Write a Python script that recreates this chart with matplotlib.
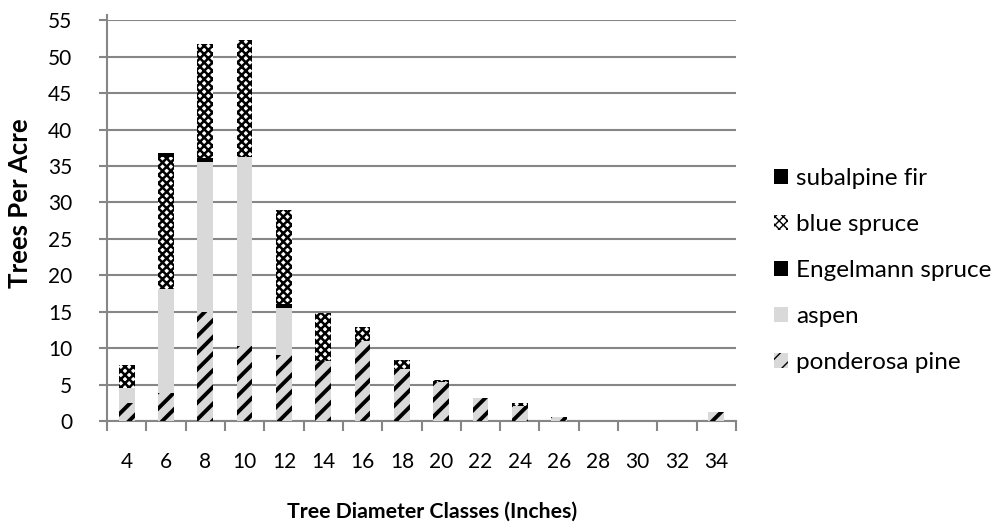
import numpy as np
import matplotlib.pyplot as plt
from matplotlib.patches import Patch

classes = ["4", "6", "8", "10", "12", "14", "16", "18", "20", "22", "24", "26", "28", "30", "32", "34"]
ponderosa = [2.5, 3.8, 14.9, 10.3, 9.0, 8.3, 11.0, 7.1, 5.4, 3.2, 2.1, 0.6, 0, 0, 0, 1.2]
aspen = [2.0, 14.3, 20.6, 25.9, 6.5, 0, 0, 0, 0, 0, 0, 0, 0, 0, 0, 0]
engelmann = [0, 0, 0.6, 0, 0.6, 0, 0, 0, 0, 0, 0, 0, 0, 0, 0, 0]
blue_spruce = [3.2, 18.1, 15.6, 16.1, 12.9, 6.5, 1.9, 1.3, 0.3, 0, 0.4, 0, 0, 0, 0, 0]
subalpine = [0, 0.6, 0, 0, 0, 0, 0, 0, 0, 0, 0, 0, 0, 0, 0, 0]

plt.rcParams["font.family"] = ["Lato", "DejaVu Sans"]

fig = plt.figure(figsize=(10, 5.31), dpi=100)
ax = fig.add_axes([0.107, 0.207, 0.629, 0.755])

x = np.arange(len(classes))
w = 0.4
grey = "#d9d9d9"
bottom = np.zeros(len(classes))

# (name, values, style, hatch line width)
series = [
    ("ponderosa pine", ponderosa, dict(facecolor=grey, edgecolor="black", hatch="//"), 2.8),
    ("aspen", aspen, dict(facecolor=grey, edgecolor=grey), 1.0),
    ("Engelmann spruce", engelmann, dict(facecolor="black", edgecolor="black"), 1.0),
    ("blue spruce", blue_spruce, dict(facecolor="white", edgecolor="black", hatch="xxxx"), 1.8),
    ("subalpine fir", subalpine, dict(facecolor="black", edgecolor="black"), 1.0),
]

handles = []
for name, vals, style, hlw in series:
    vals = np.array(vals, dtype=float)
    with plt.rc_context({"hatch.linewidth": hlw}):
        ax.bar(x, vals, w, bottom=bottom, linewidth=0, zorder=3, **style)
        handles.append(Patch(linewidth=0, label=name, **style))
    bottom += vals

ax.set_ylim(0, 55)
ax.set_xlim(-0.5, len(classes) - 0.5)
ax.set_yticks(range(0, 56, 5))
ax.yaxis.grid(True, color="#868686", linewidth=1.5, zorder=0)
ax.set_axisbelow(True)

ax.set_xticks(x)
ax.set_xticklabels(classes)
ax.set_xticks(np.arange(-0.5, len(classes), 1), minor=True)
ax.tick_params(axis="x", which="major", length=0, pad=22, labelsize=15)
ax.tick_params(axis="x", which="minor", length=7, color="#868686", width=1.5)
ax.tick_params(axis="y", length=6, color="#868686", width=1.5, labelsize=15, pad=19)

for s in ["top", "right"]:
    ax.spines[s].set_visible(False)
for s in ["left", "bottom"]:
    ax.spines[s].set_color("#868686")
    ax.spines[s].set_linewidth(1.5)
ax.spines["left"].set_bounds(0, 55.7)

ax.set_xlabel("Tree Diameter Classes (Inches)", fontsize=15.3, fontweight="bold", va="center")
ax.xaxis.set_label_coords(0.516, -0.226)
ax.set_ylabel("Trees Per Acre", fontsize=18.5, fontweight="bold")
ax.yaxis.set_label_coords(-0.119, 0.544)

fig.legend(handles=handles[::-1], loc="center left", bbox_to_anchor=(0.752, 0.491),
           frameon=False, fontsize=17.5, handlelength=0.58, handleheight=0.58,
           handletextpad=0.33, labelspacing=1.03)

fig.savefig("out.png", dpi=100)
